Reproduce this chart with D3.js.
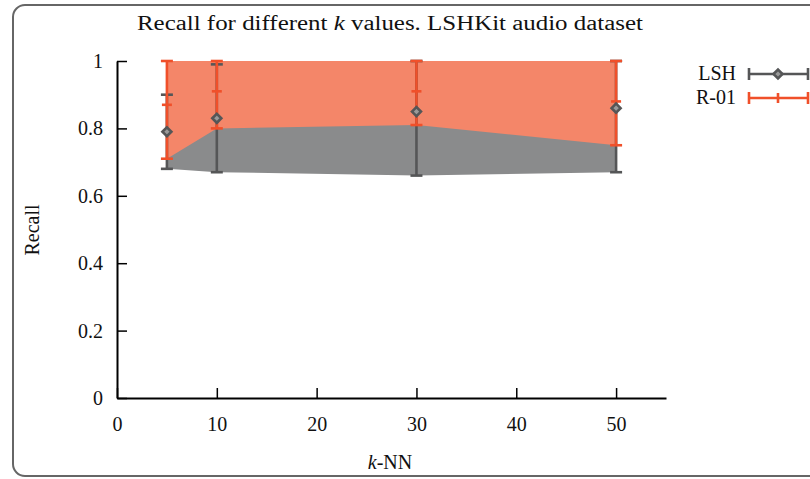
<!DOCTYPE html>
<html>
<head>
<meta charset="utf-8">
<script src="https://cdn.jsdelivr.net/npm/d3@7"></script>
<style>
  body { margin: 0; background: #fff; }
  text { font-family: "Liberation Serif", "DejaVu Serif", serif; fill: #111; }
</style>
</head>
<body>
<svg id="chart" width="810" height="479"></svg>
<script>
// chart values
var kValues = [5, 10, 30, 50];
var lshMean = [0.79, 0.83, 0.85, 0.86];
var lshMin  = [0.68, 0.67, 0.66, 0.67];
var lshMax  = [0.90, 0.99, 1.00, 1.00];
var r01Mean = [0.87, 0.91, 0.91, 0.88];
var r01Min  = [0.71, 0.80, 0.81, 0.75];
var r01Max  = [1.00, 1.00, 1.00, 1.00];
var xTicks = [0, 10, 20, 30, 40, 50];
var yTicks = [0, 0.2, 0.4, 0.6, 0.8, 1];

var grayFill = '#8a8b8c', grayLine = '#555657';
var orangeFill = '#f48669', orangeLine = '#f0502a';

var svg = d3.select('#chart');

// frame
svg.append('rect')
  .attr('x', 13).attr('y', 5).attr('width', 830).attr('height', 471)
  .attr('rx', 12).attr('ry', 12)
  .style('fill', 'none').style('stroke', '#666').style('stroke-width', 2);

var xScale = d3.scaleLinear().domain([0, 55]).range([117, 666]);
var yScale = d3.scaleLinear().domain([0, 1]).range([398, 61]);

var rows = kValues.map(function(k, i){
  return { k: k, lshMean: lshMean[i], lshMin: lshMin[i], lshMax: lshMax[i],
           r01Mean: r01Mean[i], r01Min: r01Min[i], r01Max: r01Max[i] };
});

var area = function(lo, hi){
  return d3.area().x(function(d){ return xScale(d.k) })
    .y0(function(d){ return yScale(d[lo]) }).y1(function(d){ return yScale(d[hi]) });
};

svg.append('path').attr('d', area('lshMin', 'lshMax')(rows)).style('fill', grayFill);
svg.append('path').attr('d', area('r01Min', 'r01Max')(rows)).style('fill', orangeFill);

// axes
var xAxis = svg.append('g').attr('transform', 'translate(0,398)')
  .call(d3.axisBottom(xScale).tickValues(xTicks).tickSizeInner(-10).tickSizeOuter(0).tickPadding(19));
var yAxis = svg.append('g').attr('transform', 'translate(117,0)')
  .call(d3.axisLeft(yScale).tickValues(yTicks).tickSizeInner(-10).tickSizeOuter(0).tickPadding(14)
        .tickFormat(function(d){ return d === 0 || d === 1 ? d : d3.format('.1f')(d) }));
[xAxis, yAxis].forEach(function(a){
  a.select('.domain').style('stroke', '#000').style('stroke-width', 2);
  a.selectAll('.tick line').style('stroke', '#000').style('stroke-width', 1.5);
  a.selectAll('.tick text').style('font-size', '20px').style('font-family', '"Liberation Serif", serif').style('fill', '#111');
});

// error bars
var errBars = function(lo, hi, color){
  var g = svg.append('g').style('stroke', color).style('stroke-width', 2.6).style('fill', 'none');
  rows.forEach(function(d){
    var x = xScale(d.k);
    g.append('line').attr('x1', x).attr('x2', x).attr('y1', yScale(d[lo])).attr('y2', yScale(d[hi]));
    g.append('line').attr('x1', x - 6).attr('x2', x + 6).attr('y1', yScale(d[lo])).attr('y2', yScale(d[lo]));
    g.append('line').attr('x1', x - 6).attr('x2', x + 6).attr('y1', yScale(d[hi])).attr('y2', yScale(d[hi]));
  });
  return g;
};
errBars('lshMin', 'lshMax', grayLine);
var rBars = errBars('r01Min', 'r01Max', orangeLine);
rows.forEach(function(d){
  var x = xScale(d.k), y = yScale(d.r01Mean);
  rBars.append('line').attr('x1', x - 5).attr('x2', x + 5).attr('y1', y).attr('y2', y);
});

var diamond = function(x, y){
  return 'M' + (x - 4.5) + ',' + y + 'L' + x + ',' + (y - 4.5) + 'L' + (x + 4.5) + ',' + y + 'L' + x + ',' + (y + 4.5) + 'Z';
};
svg.append('g').selectAll('path').data(rows).enter().append('path')
  .attr('d', function(d){ return diamond(xScale(d.k), yScale(d.lshMean)) })
  .style('fill', '#9a9a9a').style('stroke', grayLine).style('stroke-width', 2.6);

// labels
svg.append('text').attr('x', 390).attr('y', 30).attr('text-anchor', 'middle').style('font-size', '20px')
  .attr('textLength', 506).attr('lengthAdjust', 'spacingAndGlyphs')
  .html('Recall for different <tspan font-style="italic">k</tspan> values. LSHKit audio dataset');
svg.append('text').attr('transform', 'translate(39,230) rotate(-90)').attr('text-anchor', 'middle')
  .style('font-size', '20px').text('Recall');
svg.append('text').attr('x', 390).attr('y', 469).attr('text-anchor', 'middle').style('font-size', '20px')
  .html('<tspan font-style="italic">k</tspan>-NN');

// legend
var legend = [{ name: 'LSH', color: grayLine, mark: 'diamond' }, { name: 'R-01', color: orangeLine, mark: 'plus' }];
legend.forEach(function(l, i){
  var y = 74 + i * 24;
  svg.append('text').attr('x', 736).attr('y', y + 6).attr('text-anchor', 'end').style('font-size', '20px').text(l.name);
  var g = svg.append('g').style('stroke', l.color).style('stroke-width', 2.6).style('fill', 'none');
  g.append('line').attr('x1', 749).attr('x2', 808).attr('y1', y).attr('y2', y);
  g.append('line').attr('x1', 749).attr('x2', 749).attr('y1', y - 6).attr('y2', y + 6);
  g.append('line').attr('x1', 808).attr('x2', 808).attr('y1', y - 6).attr('y2', y + 6);
  if (l.mark === 'diamond') g.append('path').attr('d', diamond(778, y)).style('fill', '#9a9a9a').style('stroke-width', 2.6);
  else g.append('line').attr('x1', 778).attr('x2', 778).attr('y1', y - 5).attr('y2', y + 5);
});
</script>
</body>
</html>
